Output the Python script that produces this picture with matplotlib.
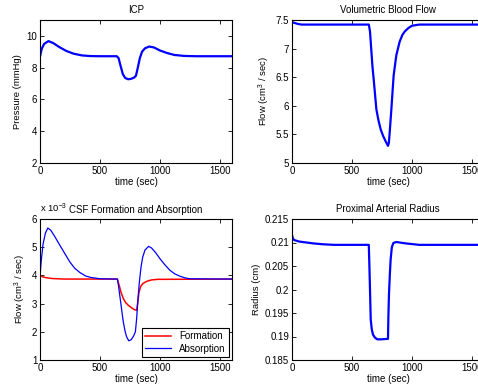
import matplotlib
matplotlib.use("Agg")
import matplotlib.pyplot as plt

plt.rcParams['font.family'] = ['Liberation Sans', 'DejaVu Sans']
plt.rcParams['font.size'] = 7
plt.rcParams['mathtext.fontset'] = 'custom'
plt.rcParams['mathtext.rm'] = 'Liberation Sans'

# ICP (mmHg)
icp_t = [0, 15, 35, 70, 110, 160, 220, 280, 350, 420, 500, 640, 655, 672, 690,
         710, 735, 760, 785, 800, 815, 832, 850, 875, 910, 950, 1000, 1060,
         1120, 1200, 1300, 1600]
icp_p = [8.7, 9.2, 9.5, 9.67, 9.55, 9.3, 9.05, 8.88, 8.77, 8.73, 8.72, 8.72,
         8.6, 8.1, 7.6, 7.35, 7.27, 7.3, 7.38, 7.5, 8.0, 8.6, 9.0, 9.22, 9.33,
         9.27, 9.08, 8.92, 8.8, 8.74, 8.72, 8.72]

# volumetric blood flow (cm^3/sec)
flow_t = [0, 20, 50, 80, 640, 650, 660, 670, 683, 703, 720, 740, 760, 780,
          800, 807, 814, 828, 847, 869, 897, 920, 940, 970, 1000, 1060, 1600]
flow_v = [7.46, 7.45, 7.43, 7.42, 7.42, 7.3, 7.0, 6.7, 6.41, 5.94, 5.75, 5.58,
          5.47, 5.38, 5.3, 5.35, 5.53, 5.94, 6.53, 6.88, 7.12, 7.24, 7.3, 7.36,
          7.4, 7.42, 7.42]

# CSF absorption / formation (x 1e-3 cm^3/sec)
abs_t = [0, 10, 25, 45, 65, 90, 120, 167, 210, 250, 290, 333, 380, 420, 500,
         645, 655, 672, 694, 710, 722, 740, 760, 780, 795, 806, 817, 828, 842,
         856, 875, 905, 930, 965, 1000, 1040, 1083, 1125, 1167, 1210, 1250, 1600]
abs_v = [3.95, 4.5, 5.1, 5.5, 5.68, 5.6, 5.4, 5.06, 4.75, 4.47, 4.25, 4.1, 3.98,
         3.93, 3.88, 3.87, 3.6, 3.06, 2.35, 2.0, 1.82, 1.68, 1.72, 1.85, 2.0,
         2.5, 3.2, 3.76, 4.3, 4.65, 4.9, 5.03, 4.97, 4.8, 4.59, 4.38, 4.18,
         4.05, 3.97, 3.91, 3.88, 3.87]
form_t = [0, 20, 50, 100, 200, 645, 660, 675, 694, 715, 736, 760, 785, 805,
          815, 825, 840, 860, 890, 930, 980, 1600]
form_v = [4.02, 3.95, 3.92, 3.89, 3.87, 3.87, 3.65, 3.4, 3.18, 3.03, 2.94,
          2.86, 2.79, 2.76, 3.05, 3.4, 3.62, 3.72, 3.79, 3.84, 3.86, 3.87]

# proximal arterial radius (cm)
rad_t = [0, 8, 20, 60, 120, 180, 260, 350, 640, 645, 650, 656, 665, 675, 690,
         710, 740, 800, 803, 808, 815, 822, 832, 845, 870, 950, 1060, 1600]
rad_v = [0.2116, 0.2108, 0.2105, 0.2102, 0.2100, 0.2098, 0.20962, 0.2095,
         0.2095, 0.2050, 0.2000, 0.1936, 0.1915, 0.1904, 0.1898, 0.1894,
         0.1894, 0.1895, 0.1940, 0.1989, 0.2030, 0.2064, 0.2090, 0.2099,
         0.2101, 0.2098, 0.2095, 0.2095]

xticks = [0, 500, 1000, 1500]

fig = plt.figure(figsize=(4.78, 3.85), dpi=100)
W, H = 478.0, 385.0
ax_icp = fig.add_axes([40 / W, 1 - 163 / H, 192 / W, 143 / H])
ax_flow = fig.add_axes([292 / W, 1 - 163 / H, 192 / W, 143 / H])
ax_csf = fig.add_axes([40 / W, 1 - 360 / H, 192 / W, 141 / H])
ax_rad = fig.add_axes([292 / W, 1 - 360 / H, 192 / W, 141 / H])


def style(ax, title, ylabel):
    ax.set_xlim(0, 1600)
    ax.set_xticks(xticks)
    ax.set_title(title, fontsize=7, pad=5)
    ax.set_xlabel('time (sec)', labelpad=1)
    ax.set_ylabel(ylabel, labelpad=3, fontsize=6.8)
    ax.tick_params(direction='in', top=True, right=True, length=3, width=0.6,
                   pad=2, labelsize=7)
    for s in ax.spines.values():
        s.set_linewidth(0.8)


ax_icp.plot(icp_t, icp_p, color='blue', lw=1.6)
ax_icp.set_ylim(2, 11)
ax_icp.set_yticks([2, 4, 6, 8, 10])
style(ax_icp, 'ICP', 'Pressure (mmHg)')

ax_flow.plot(flow_t, flow_v, color='blue', lw=1.6)
ax_flow.set_ylim(5, 7.5)
ax_flow.set_yticks([5, 5.5, 6, 6.5, 7, 7.5])
ax_flow.set_yticklabels(['5', '5.5', '6', '6.5', '7', '7.5'])
style(ax_flow, 'Volumetric Blood Flow', 'Flow (cm$^3$ / sec)')

ax_csf.plot(form_t, form_v, color='red', lw=1.1, label='Formation')
ax_csf.plot(abs_t, abs_v, color='blue', lw=0.9, label='Absorption')
ax_csf.set_ylim(1, 6)
ax_csf.set_yticks([1, 2, 3, 4, 5, 6])
style(ax_csf, '', 'Flow (cm$^3$ / sec)')
ax_csf.text(0.0, 1.025, 'x 10$^{-3}$', transform=ax_csf.transAxes,
            ha='left', va='bottom', fontsize=6.8)
ax_csf.text(0.15, 1.025, 'CSF Formation and Absorption',
            transform=ax_csf.transAxes, ha='left', va='bottom', fontsize=7)
leg = ax_csf.legend(loc='lower right', fancybox=False, framealpha=1,
                    edgecolor='black', borderaxespad=0.3, handlelength=2.7,
                    labelspacing=0.25, borderpad=0.35, fontsize=7)
leg.get_frame().set_linewidth(0.8)

ax_rad.plot(rad_t, rad_v, color='blue', lw=1.6)
ax_rad.set_ylim(0.185, 0.215)
ax_rad.set_yticks([0.185, 0.19, 0.195, 0.2, 0.205, 0.21, 0.215])
ax_rad.set_yticklabels(['0.185', '0.19', '0.195', '0.2', '0.205', '0.21',
                        '0.215'])
style(ax_rad, 'Proximal Arterial Radius', 'Radius (cm)')

fig.savefig('out.png', dpi=100)
